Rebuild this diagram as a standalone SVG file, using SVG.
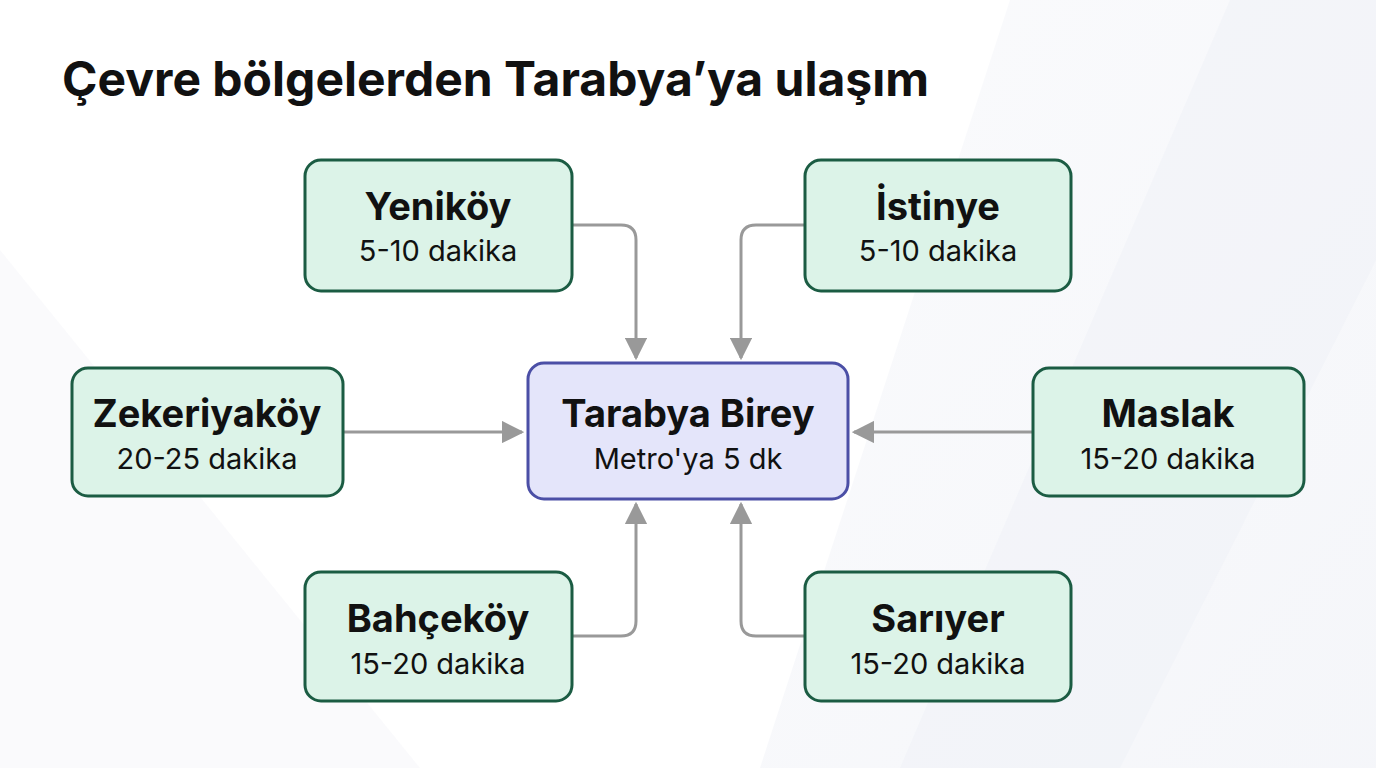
<svg xmlns="http://www.w3.org/2000/svg" width="1376" height="768" viewBox="0 0 1376 768">
<style>
.bg{fill:#ffffff}
.node rect{fill:#dcf3e8;stroke:#1b5c43;stroke-width:3}
.hub rect{fill:#e4e5fa;stroke:#4b4fa6;stroke-width:3}
.t{font-family:Inter,"Liberation Sans",sans-serif;font-weight:700;font-size:38px;fill:#111;text-anchor:middle}
.s{font-family:Inter,"Liberation Sans",sans-serif;font-size:29px;fill:#111;text-anchor:middle}
.title{font-family:Inter,"Liberation Sans",sans-serif;font-weight:700;font-size:48px;fill:#111}
.c{fill:none;stroke:#999;stroke-width:3}
</style>
<defs>
<marker id="ah" viewBox="0 0 10 10" refX="9" refY="5" markerWidth="7.5" markerHeight="7.5" markerUnits="strokeWidth" orient="auto">
<path d="M0,0 L10,5 L0,10 z" fill="#999"/>
</marker>
<linearGradient id="g1" x1="0" y1="0" x2="1" y2="1">
<stop offset="0" stop-color="#f7f8fb"/>
<stop offset="1" stop-color="#eef0f6"/>
</linearGradient>
</defs>
<rect class="bg" width="1376" height="768"/>
<polygon points="1010,0 1376,0 1376,768 760,768" fill="url(#g1)" opacity="0.6"/>
<polygon points="1230,0 1376,0 1376,260 1120,768 900,768" fill="#eef0f6" opacity="0.45"/>
<polygon points="0,250 420,768 0,768" fill="#f6f7fa" opacity="0.6"/>
<text class="title" x="62" y="96">Çevre bölgelerden Tarabya’ya ulaşım</text>
<g id="connectors">
<path class="c" d="M572,225 H621 Q636,225 636,240 V358" marker-end="url(#ah)"/>
<path class="c" d="M805,225 H756 Q741,225 741,240 V358" marker-end="url(#ah)"/>
<path class="c" d="M343,432 H522" marker-end="url(#ah)"/>
<path class="c" d="M1033,432 H854" marker-end="url(#ah)"/>
<path class="c" d="M572,636 H621 Q636,636 636,621 V504" marker-end="url(#ah)"/>
<path class="c" d="M805,636 H756 Q741,636 741,621 V504" marker-end="url(#ah)"/>
</g>
<g id="yenikoy" class="node"><rect x="305" y="160" width="267" height="131" rx="16"/><text class="t" x="438" y="220">Yeniköy</text><text class="s" x="438" y="261">5-10 dakika</text></g>
<g id="istinye" class="node"><rect x="805" y="160" width="266" height="131" rx="16"/><text class="t" x="938" y="220">İstinye</text><text class="s" x="938" y="261">5-10 dakika</text></g>
<g id="zekeriyakoy" class="node"><rect x="72" y="368" width="271" height="128" rx="16"/><text class="t" x="207" y="427">Zekeriyaköy</text><text class="s" x="207" y="469">20-25 dakika</text></g>
<g id="tarabya" class="hub"><rect x="528" y="363" width="320" height="136" rx="16"/><text class="t" x="688" y="427">Tarabya Birey</text><text class="s" x="688" y="469">Metro'ya 5 dk</text></g>
<g id="maslak" class="node"><rect x="1033" y="368" width="271" height="128" rx="16"/><text class="t" x="1168" y="427">Maslak</text><text class="s" x="1168" y="469">15-20 dakika</text></g>
<g id="bahcekoy" class="node"><rect x="305" y="572" width="267" height="129" rx="16"/><text class="t" x="438" y="632">Bahçeköy</text><text class="s" x="438" y="674">15-20 dakika</text></g>
<g id="sariyer" class="node"><rect x="805" y="572" width="266" height="129" rx="16"/><text class="t" x="938" y="632">Sarıyer</text><text class="s" x="938" y="674">15-20 dakika</text></g>
</svg>
